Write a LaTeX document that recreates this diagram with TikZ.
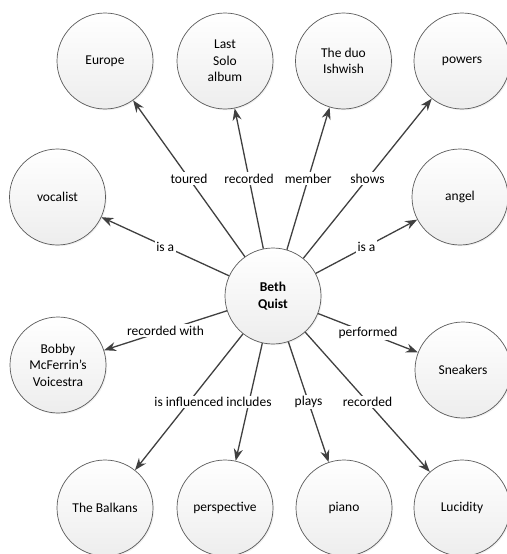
\documentclass[tikz,border=0pt]{standalone}
\usepackage{fontspec}
\setmainfont{Carlito}
\usepackage{xcolor}
\usepackage{tikz}
\usetikzlibrary{arrows.meta, positioning}
\usetikzlibrary{shadows}
\definecolor{edgegray}{HTML}{404040}
\definecolor{rimgray}{HTML}{5A5A5A}

\tikzset{
  concept/.style={circle, draw=rimgray, line width=0.7pt, minimum size=96pt,
    inner sep=1pt, align=center, top color=white, bottom color=gray!14,
    drop shadow={opacity=0.12, shadow xshift=1.2pt, shadow yshift=-1.2pt},
    font=\fontsize{13.5}{16.5}\selectfont},
  rel/.style={draw=edgegray, line width=1.3pt, -{Stealth[length=12pt, width=9pt]}},
  lbl/.style={fill=white, inner sep=1.5pt, font=\fontsize{13.5}{16}\selectfont, text=black}
}

\begin{document}
\begin{tikzpicture}[x=1pt, y=-1pt]
            \useasboundingbox (0,0) rectangle (506,554);
            \node[concept](beth) at (273,296) {\textbf{Beth}\\\textbf{Quist}};
            \node[concept](europe) at (105,61) {Europe};
            \node[concept](album) at (225,61) {Last\\Solo\\album};
            \node[concept](duo) at (343.5,61) {The duo\\Ishwish};
            \node[concept](powers) at (462,61) {powers};
            \node[concept](vocalist) at (57.5,197) {vocalist};
            \node[concept](angel) at (460,197) {angel};
            \node[concept](bobby) at (58,365) {Bobby\\McFerrin’s\\Voicestra};
            \node[concept](sneakers) at (463,370) {Sneakers};
            \node[concept](balkans) at (105,508) {The Balkans};
            \node[concept](persp) at (225,508) {perspective};
            \node[concept](piano) at (344,508) {piano};
            \node[concept](lucidity) at (462,508) {Lucidity};
            \draw[rel] (beth) -- node[lbl]{toured} (europe);
            \draw[rel] (beth) -- node[lbl]{recorded} (album);
            \draw[rel] (beth) -- node[lbl]{member} (duo);
            \draw[rel] (beth) -- node[lbl]{shows} (powers);
            \draw[rel] (beth) -- node[lbl]{is a} (vocalist);
            \draw[rel] (beth) -- node[lbl]{is a} (angel);
            \draw[rel] (beth) -- node[lbl]{recorded with} (bobby);
            \draw[rel] (beth) -- node[lbl]{performed} (sneakers);
            \draw[rel] (beth) -- node[lbl]{is influenced} (balkans);
            \draw[rel] (beth) -- node[lbl]{includes} (persp);
            \draw[rel] (beth) -- node[lbl]{plays} (piano);
            \draw[rel] (beth) -- node[lbl]{recorded} (lucidity);
        \end{tikzpicture}
\end{document}
